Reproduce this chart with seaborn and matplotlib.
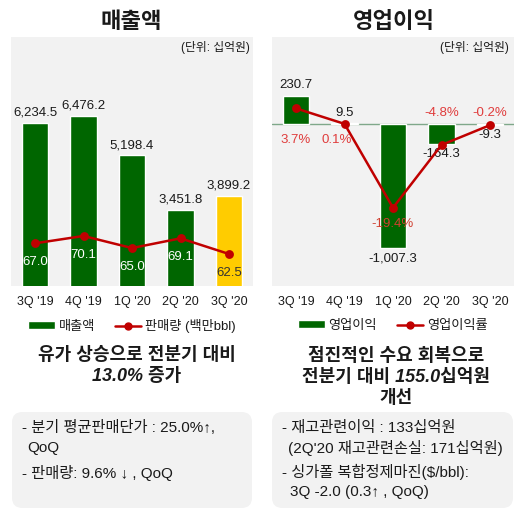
import numpy as np
import pandas as pd
import seaborn as sns
import matplotlib.pyplot as plt
from matplotlib.patches import Patch, FancyBboxPatch
from matplotlib.lines import Line2D

quarters = ["3Q '19", "4Q '19", "1Q '20", "2Q '20", "3Q '20"]
sales = [6234.5, 6476.2, 5198.4, 3451.8, 3899.2]
volume = [67.0, 70.1, 65.0, 69.1, 62.5]
op_income = [230.7, 9.5, -1007.3, -164.3, -9.3]
op_margin = [3.7, 0.1, -19.4, -4.8, -0.2]

GREEN = "#006600"
YELLOW = "#FFCC00"
RED = "#C00000"
LABEL_RED = "#E03C3C"
PANEL = "#F2F2F2"
TXT = "#1a1a1a"
bar_colors = [GREEN, GREEN, GREEN, GREEN, YELLOW]

W, H = 522, 516

sns.set_theme(style="white")
plt.rcParams['font.family'] = ['Liberation Sans', 'Noto Sans CJK KR', 'DejaVu Sans']

fig = plt.figure(figsize=(W / 100, H / 100), dpi=100)


def fx(x):
    return x / W


def fy(y):
    return 1 - y / H


def panel_axes(left, right, top=37, bottom=286):
    ax = fig.add_axes([fx(left), fy(bottom), (right - left) / W, (bottom - top) / H])
    ax.set_facecolor(PANEL)
    return ax


def clean(ax, twin):
    for s in ax.spines.values():
        s.set_visible(False)
    ax.set_yticks([])
    ax.set_xlabel("")
    ax.set_ylabel("")
    if twin:
        ax.tick_params(axis='x', length=0, labelbottom=False)
    else:
        ax.tick_params(axis='x', length=0, pad=7, labelsize=9, labelcolor=TXT)


# ---- left: 매출액 ----
ax1 = panel_axes(10.75, 253.25)
sns.barplot(x=quarters, y=sales, hue=quarters, palette=bar_colors, legend=False,
            width=0.54, saturation=1, ax=ax1)
ax1.set_ylim(1000, 9000)
for cont, v in zip(ax1.containers, sales):
    ax1.bar_label(cont, labels=[f"{v:,.1f}"], padding=3, fontsize=9.5, color=TXT)

ax2 = ax1.twinx()
sns.pointplot(x=quarters, y=volume, color=RED, ax=ax2, markersize=5, linewidth=1.8)
ax2.set_ylim(49, 154)
for i, v in enumerate(volume):
    c = "white" if i < 4 else "#333333"
    ax2.annotate(f"{v:.1f}", (i, v), xytext=(0, -13.5), textcoords='offset points',
                 ha='center', va='center', fontsize=9.5, color=c)
clean(ax1, False)
clean(ax2, True)

ax1.legend(handles=[Patch(facecolor=GREEN),
                    Line2D([], [], color=RED, marker='o', markersize=5, lw=1.8)],
           labels=['매출액', '판매량 (백만bbl)'], loc='center', bbox_to_anchor=(0.5, -0.16),
           ncol=2, frameon=False, fontsize=9.5, handlelength=2, handleheight=0.5,
           columnspacing=1.5, handletextpad=0.3, labelcolor=TXT)

# ---- right: 영업이익 ----
ax3 = panel_axes(271.75, 514.25)
ax3.axhline(0, color="#7FA88A", lw=1, zorder=0.5)
sns.barplot(x=quarters, y=op_income, hue=quarters, palette=bar_colors, legend=False,
            width=0.55, saturation=1, ax=ax3)
ax3.set_ylim(-1317, 707)
for cont, v in zip(ax3.containers, op_income):
    ax3.bar_label(cont, labels=[f"{v:,.1f}"], padding=3, fontsize=9.5, color=TXT)

ax4 = ax3.twinx()
sns.pointplot(x=quarters, y=op_margin, color=RED, ax=ax4, markersize=5, linewidth=1.8)
ax4.set_ylim(-37.6, 20.3)
pct_offsets = [(0, 32), (-8, 16), (0, 16), (0, -32), (0, -12)]
for i, (v, (dx, dy)) in enumerate(zip(op_margin, pct_offsets)):
    c = "#D04030" if i == 2 else LABEL_RED
    ax4.annotate(f"{v:.1f}%", (i, v), xytext=(dx * 0.72, -dy * 0.72),
                 textcoords='offset points', ha='center', va='center', fontsize=9.5, color=c)
clean(ax3, False)
clean(ax4, True)

ax3.legend(handles=[Patch(facecolor=GREEN),
                    Line2D([], [], color=RED, marker='o', markersize=5, lw=1.8)],
           labels=['영업이익', '영업이익률'], loc='center', bbox_to_anchor=(0.5, -0.16),
           ncol=2, frameon=False, fontsize=9.5, handlelength=2, handleheight=0.5,
           columnspacing=1.5, handletextpad=0.3, labelcolor=TXT)

# ---- titles ----
fig.text(fx(131), fy(22), "매출액", ha='center', va='center', fontsize=16,
         fontweight='bold', color=TXT)
fig.text(fx(394), fy(22), "영업이익", ha='center', va='center', fontsize=16,
         fontweight='bold', color=TXT)
fig.text(fx(250), fy(48), "(단위: 십억원)", ha='right', va='center', fontsize=8.5, color=TXT)
fig.text(fx(509), fy(48), "(단위: 십억원)", ha='right', va='center', fontsize=8.5, color=TXT)

# ---- headlines ----
fig.text(fx(137), fy(366), "유가 상승으로 전분기 대비\n13.0% 증가", ha='center', va='center',
         fontsize=13, fontweight='bold', style='italic', linespacing=1.3, color=TXT)
fig.text(fx(396), fy(377.5), "점진적인 수요 회복으로\n전분기 대비 155.0십억원\n개선",
         ha='center', va='center', fontsize=13, fontweight='bold', style='italic',
         linespacing=1.3, color=TXT)

# ---- boxes ----
for left, right in [(12, 252), (272, 513)]:
    box = FancyBboxPatch((fx(left), fy(508)), (right - left) / W, (508 - 412) / H,
                         boxstyle="round,pad=0,rounding_size=0.02",
                         transform=fig.transFigure, facecolor=PANEL, edgecolor='none')
    fig.add_artist(box)

fig.text(fx(22), fy(428), "- 분기 평균판매단가 : 25.0%↑,", va='center', fontsize=11, color=TXT)
fig.text(fx(27), fy(448), "QoQ", va='center', fontsize=11, color=TXT)
fig.text(fx(22), fy(473), "- 판매량: 9.6% ↓ , QoQ", va='center', fontsize=11, color=TXT)

fig.text(fx(282), fy(428), "- 재고관련이익 : 133십억원", va='center', fontsize=11, color=TXT)
fig.text(fx(288), fy(448), "(2Q'20 재고관련손실: 171십억원)", va='center', fontsize=11, color=TXT)
fig.text(fx(282), fy(472), "- 싱가폴 복합정제마진($/bbl):", va='center', fontsize=11, color=TXT)
fig.text(fx(290), fy(492), "3Q -2.0 (0.3↑ , QoQ)", va='center', fontsize=11, color=TXT)

fig.savefig("out.png", dpi=100)
